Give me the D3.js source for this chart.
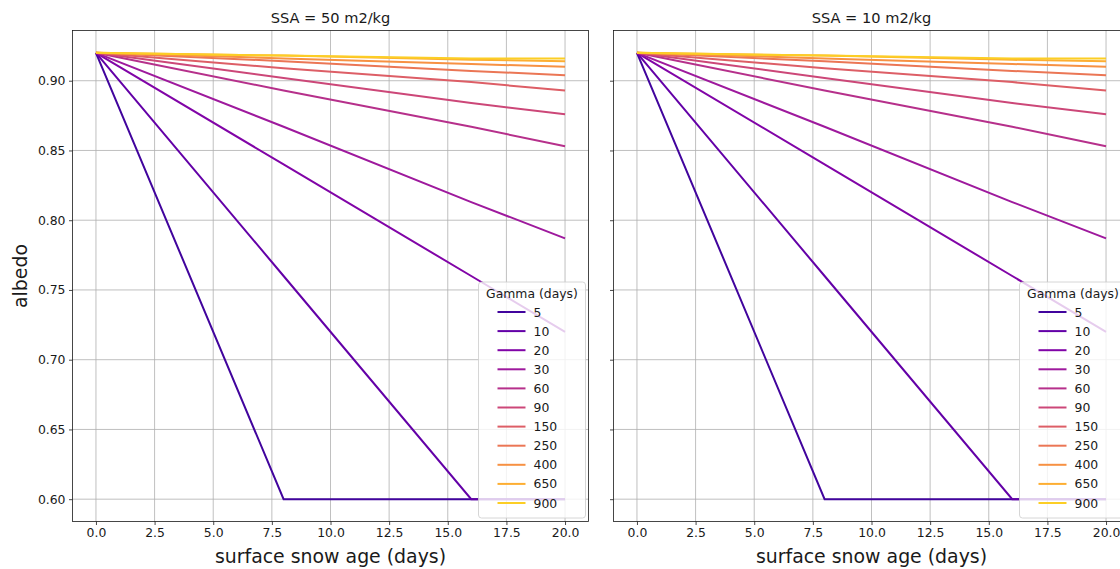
<!DOCTYPE html>
<html><head><meta charset="utf-8">
<script src="https://cdn.jsdelivr.net/npm/d3@7"></script>
<style>
body{margin:0;background:#fff;overflow:hidden;}
text{font-family:"DejaVu Sans",sans-serif;fill:#1a1a1a;}
</style></head>
<body><svg id="c" width="1120" height="569"></svg>
<script>
const gammas = [5, 10, 20, 30, 60, 90, 150, 250, 400, 650, 900];
const days = [0, 8, 16, 20];
const albedoSSA50 = [
  [0.92, 0.600, 0.600, 0.600],
  [0.92, 0.760, 0.600, 0.600],
  [0.92, 0.840, 0.760, 0.720],
  [0.92, 0.867, 0.813, 0.787],
  [0.92, 0.893, 0.867, 0.853],
  [0.92, 0.902, 0.884, 0.876],
  [0.92, 0.909, 0.899, 0.893],
  [0.92, 0.914, 0.907, 0.904],
  [0.92, 0.916, 0.912, 0.910],
  [0.92, 0.918, 0.915, 0.914],
  [0.92, 0.918, 0.916, 0.916]
];
const albedoSSA10 = [
  [0.92, 0.600, 0.600, 0.600],
  [0.92, 0.760, 0.600, 0.600],
  [0.92, 0.840, 0.760, 0.720],
  [0.92, 0.867, 0.813, 0.787],
  [0.92, 0.893, 0.867, 0.853],
  [0.92, 0.902, 0.884, 0.876],
  [0.92, 0.909, 0.899, 0.893],
  [0.92, 0.914, 0.907, 0.904],
  [0.92, 0.916, 0.912, 0.910],
  [0.92, 0.918, 0.915, 0.914],
  [0.92, 0.918, 0.916, 0.916]
];
const panelTitles = ["SSA = 50 m2/kg", "SSA = 10 m2/kg"];
const xTicks = [0, 2.5, 5, 7.5, 10, 12.5, 15, 17.5, 20];
const yTicks = [0.60, 0.65, 0.70, 0.75, 0.80, 0.85, 0.90];
const legendTitle = "Gamma (days)";
const xLabel = "surface snow age (days)";
const yLabel = "albedo";

(function () {
const svg = d3.select("#c");
const colors = gammas.map((g, i) => d3.interpolatePlasma(0.1 + 0.8 * i / (gammas.length - 1)));
const yTop = 30.5, yBot = 521.5, w = 516;
const lefts = [72.5, 613.5];
const y = d3.scaleLinear().domain([0.584, 0.936]).range([yBot, yTop]);

[albedoSSA50, albedoSSA10].forEach((data, p) => {
  const L = lefts[p];
  const x = d3.scaleLinear().domain([-1, 21]).range([L, L + w]);
  const g = svg.append("g");
  g.selectAll(".gx").data(xTicks).join("line")
    .attr("x1", d => x(d)).attr("x2", d => x(d)).attr("y1", yTop).attr("y2", yBot)
    .attr("stroke", "#b0b0b0").attr("stroke-width", 0.8);
  g.selectAll(".gy").data(yTicks).join("line")
    .attr("y1", d => y(d)).attr("y2", d => y(d)).attr("x1", L).attr("x2", L + w)
    .attr("stroke", "#b0b0b0").attr("stroke-width", 0.8);
  const line = d3.line().x((d, i) => x(days[i])).y(d => y(d));
  data.forEach((s, i) => {
    g.append("path").attr("d", line(s)).attr("fill", "none")
      .attr("stroke", colors[i]).attr("stroke-width", 2);
  });
  const xa = g.append("g").attr("transform", `translate(0,${yBot})`)
    .call(d3.axisBottom(x).tickValues(xTicks).tickFormat(d3.format(".1f")).tickSize(3.5).tickPadding(3.5));
  const ya = g.append("g").attr("transform", `translate(${L},0)`)
    .call(d3.axisLeft(y).tickValues(yTicks).tickFormat(p === 0 ? d3.format(".2f") : () => "").tickSize(3.5).tickPadding(3.5));
  [xa, ya].forEach(a => {
    a.select(".domain").remove();
    a.selectAll("line").attr("stroke", "#1a1a1a").attr("stroke-width", 0.8);
    a.selectAll("text").style("font-size", "12.4px").style("font-family", "DejaVu Sans").attr("fill", "#1a1a1a");
  });
  g.append("rect").attr("x", L).attr("y", yTop).attr("width", w).attr("height", yBot - yTop)
    .attr("fill", "none").attr("stroke", "#1a1a1a").attr("stroke-width", 0.8);
  g.append("text").attr("x", L + w / 2).attr("y", 23).attr("text-anchor", "middle")
    .style("font-size", "14.6px").text(panelTitles[p]);
  g.append("text").attr("x", L + w / 2).attr("y", 563).attr("text-anchor", "middle")
    .style("font-size", "18.9px").text(xLabel);
  const lx = L + w - 110, ly = 282;
  const lg = g.append("g").attr("transform", `translate(${lx},${ly})`);
  lg.append("rect").attr("x", 0).attr("y", 0).attr("width", 107).attr("height", 236)
    .attr("rx", 3).attr("fill", "white").attr("fill-opacity", 0.8)
    .attr("stroke", "#cccccc").attr("stroke-width", 0.8);
  lg.append("text").attr("x", 53.5).attr("y", 16).attr("text-anchor", "middle")
    .style("font-size", "12.4px").text(legendTitle);
  gammas.forEach((gm, i) => {
    const yy = 30 + i * 19.1;
    lg.append("line").attr("x1", 19).attr("x2", 47).attr("y1", yy).attr("y2", yy)
      .attr("stroke", colors[i]).attr("stroke-width", 2);
    lg.append("text").attr("x", 55).attr("y", yy + 4.5).style("font-size", "12.4px").text(gm);
  });
});
svg.append("text").attr("transform", `translate(27,${(yTop + yBot) / 2}) rotate(-90)`)
  .attr("text-anchor", "middle").style("font-size", "18.9px").text(yLabel);
})();
</script></body></html>
